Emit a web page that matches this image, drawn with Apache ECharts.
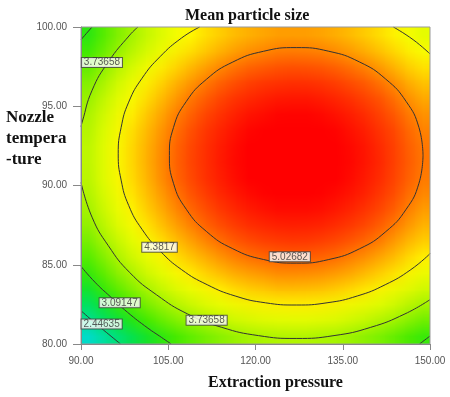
<!DOCTYPE html>
<html lang="en">
<head>
<meta charset="UTF-8">
<title>Mean particle size</title>
<script src="https://cdn.jsdelivr.net/npm/echarts@6/dist/echarts.min.js"></script>
<style>html,body{margin:0;padding:0;background:#fff;}</style>
</head>
<body>
<div id="main" style="width:450px;height:397px;"></div>
<script>
// cell centres of the coloured surface (extraction pressure / nozzle temperature)
var xCells = ['91.25','93.75','96.25','98.75','101.25','103.75','106.25','108.75','111.25','113.75','116.25','118.75',
              '121.25','123.75','126.25','128.75','131.25','133.75','136.25','138.75','141.25','143.75','146.25','148.75'];
var yCells = ['80.5','81.5','82.5','83.5','84.5','85.5','86.5','87.5','88.5','89.5',
              '90.5','91.5','92.5','93.5','94.5','95.5','96.5','97.5','98.5','99.5'];

// mean particle size, one row per yCell (bottom to top)
var sizeGrid = [
  [2.00,2.24,2.47,2.67,2.86,3.03,3.19,3.32,3.44,3.54,3.63,3.70,3.74,3.78,3.79,3.79,3.77,3.73,3.67,3.60,3.51,3.40,3.27,3.13],
  [2.31,2.55,2.78,2.98,3.17,3.34,3.50,3.63,3.75,3.85,3.94,4.01,4.05,4.09,4.10,4.10,4.08,4.04,3.98,3.91,3.82,3.71,3.58,3.44],
  [2.60,2.84,3.07,3.27,3.46,3.63,3.79,3.92,4.04,4.14,4.23,4.30,4.34,4.38,4.39,4.39,4.37,4.33,4.27,4.20,4.11,4.00,3.87,3.73],
  [2.86,3.10,3.33,3.53,3.72,3.89,4.05,4.18,4.30,4.40,4.49,4.56,4.60,4.64,4.65,4.65,4.63,4.59,4.53,4.46,4.37,4.26,4.13,3.99],
  [3.09,3.33,3.56,3.76,3.95,4.12,4.28,4.41,4.53,4.63,4.72,4.79,4.83,4.87,4.88,4.88,4.86,4.82,4.76,4.69,4.60,4.49,4.36,4.22],
  [3.29,3.53,3.76,3.96,4.15,4.32,4.48,4.61,4.73,4.83,4.92,4.99,5.03,5.07,5.08,5.08,5.06,5.02,4.96,4.89,4.80,4.69,4.56,4.42],
  [3.46,3.70,3.93,4.13,4.32,4.49,4.65,4.78,4.90,5.00,5.09,5.16,5.20,5.24,5.25,5.25,5.23,5.19,5.13,5.06,4.97,4.86,4.73,4.59],
  [3.61,3.85,4.08,4.28,4.47,4.64,4.80,4.93,5.05,5.15,5.24,5.31,5.35,5.39,5.40,5.40,5.38,5.34,5.28,5.21,5.12,5.01,4.88,4.74],
  [3.72,3.96,4.19,4.39,4.58,4.75,4.91,5.04,5.16,5.26,5.35,5.42,5.46,5.50,5.51,5.51,5.49,5.45,5.39,5.32,5.23,5.12,4.99,4.85],
  [3.81,4.05,4.28,4.48,4.67,4.84,5.00,5.13,5.25,5.35,5.44,5.51,5.55,5.59,5.60,5.60,5.58,5.54,5.48,5.41,5.32,5.21,5.08,4.94],
  [3.87,4.11,4.34,4.54,4.73,4.90,5.06,5.19,5.31,5.41,5.50,5.57,5.61,5.65,5.66,5.66,5.64,5.60,5.54,5.47,5.38,5.27,5.14,5.00],
  [3.90,4.14,4.37,4.57,4.76,4.93,5.09,5.22,5.34,5.44,5.53,5.60,5.64,5.68,5.69,5.69,5.67,5.63,5.57,5.50,5.41,5.30,5.17,5.03],
  [3.90,4.14,4.37,4.57,4.76,4.93,5.09,5.22,5.34,5.44,5.53,5.60,5.64,5.68,5.69,5.69,5.67,5.63,5.57,5.50,5.41,5.30,5.17,5.03],
  [3.87,4.11,4.34,4.54,4.73,4.90,5.06,5.19,5.31,5.41,5.50,5.57,5.61,5.65,5.66,5.66,5.64,5.60,5.54,5.47,5.38,5.27,5.14,5.00],
  [3.81,4.05,4.28,4.48,4.67,4.84,5.00,5.13,5.25,5.35,5.44,5.51,5.55,5.59,5.60,5.60,5.58,5.54,5.48,5.41,5.32,5.21,5.08,4.94],
  [3.72,3.96,4.19,4.39,4.58,4.75,4.91,5.04,5.16,5.26,5.35,5.42,5.46,5.50,5.51,5.51,5.49,5.45,5.39,5.32,5.23,5.12,4.99,4.85],
  [3.61,3.85,4.08,4.28,4.47,4.64,4.80,4.93,5.05,5.15,5.24,5.31,5.35,5.39,5.40,5.40,5.38,5.34,5.28,5.21,5.12,5.01,4.88,4.74],
  [3.46,3.70,3.93,4.13,4.32,4.49,4.65,4.78,4.90,5.00,5.09,5.16,5.20,5.24,5.25,5.25,5.23,5.19,5.13,5.06,4.97,4.86,4.73,4.59],
  [3.29,3.53,3.76,3.96,4.15,4.32,4.48,4.61,4.73,4.83,4.92,4.99,5.03,5.07,5.08,5.08,5.06,5.02,4.96,4.89,4.80,4.69,4.56,4.42],
  [3.09,3.33,3.56,3.76,3.95,4.12,4.28,4.41,4.53,4.63,4.72,4.79,4.83,4.87,4.88,4.88,4.86,4.82,4.76,4.69,4.60,4.49,4.36,4.22]
];

// contour lines, points [pressure, temperature]
var c5027 = [[148.8,91.9],[148.1,93.66],[145.9,95.3],[142.4,96.71],[137.9,97.79],[132.6,98.47],[127,98.7],
             [121.4,98.47],[116.1,97.79],[111.6,96.71],[108.1,95.3],[105.9,93.66],[105.2,91.9],[105.9,90.14],
             [108.1,88.5],[111.6,87.09],[116.1,86.01],[121.4,85.33],[127,85.1],[132.6,85.33],[137.9,86.01],
             [142.4,87.09],[145.9,88.5],[148.1,90.14],[148.8,91.9]];
var c4382a = [[110.4,100],[107.3,99.31],[103.6,98.13],[100.5,96.77],[98.2,95.26],[96.9,93.66],[96.4,92.0],
              [96.9,90.34],[98.2,88.74],[100.5,87.23],[103.6,85.87],[107.3,84.69],[111.7,83.74],[116.5,83.03],
              [121.7,82.6],[127,82.46],[132.3,82.6],[137.5,83.03],[142.3,83.74],[146.7,84.69],[150,85.7]];
var c4382b = [[143.7,100],[147.1,99.2],[150,98.3]];
var c3737a = [[99.8,100],[98.4,99.5],[94.7,97.8],[91.9,96.0],[90.2,94.0],[90,93.7]];
var c3737b = [[90,90.2],[91.9,88.0],[94.7,86.2],[98.4,84.5],[103.0,83.1],[108.3,81.9],[114.2,81.05],
              [120.5,80.53],[127,80.35],[133.5,80.53],[139.8,81.05],[145.7,81.9],[150,82.8]];
var c3091a = [[91.9,100],[90,99.2]];
var c3091b = [[90,84.9],[92.4,83.9],[95.0,83.0],[98.0,82.0],[101.5,81.0],[103.5,80.5],[105.5,80.0]];
var c3091c = [[148.2,80],[150,80.5]];
var c2446 = [[90,82.1],[92.5,81.3],[94.8,80.6],[96.8,80]];

// contour value boxes
var labelTexts = ['3.73658', '4.3817', '5.02682', '3.09147', '2.44635', '3.73658'];
var labelPos = [[93.6,97.76],[103.5,86.1],[125.9,85.5],[96.65,82.6],[93.55,81.26],[111.6,81.5]];

var surfaceColors = ['#00c8ff', '#00d8e0', '#00e0a0', '#00e050', '#30e800', '#80f000',
                     '#c8f800', '#ffff00', '#ffb000', '#ff5000', '#ff0000'];

var heat = [];
for (var j = 0; j < sizeGrid.length; j++) {
  for (var i = 0; i < sizeGrid[j].length; i++) {
    heat.push([i, j, sizeGrid[j][i]]);
  }
}

// heatmap drawn one pixel per cell, then stretched (smoothly) over the plot
var cellDiv = document.createElement('div');
cellDiv.style.cssText = 'position:absolute;left:-300px;top:0;width:' + xCells.length + 'px;height:' + yCells.length + 'px;';
document.body.appendChild(cellDiv);
var cellChart = echarts.init(cellDiv, null, { devicePixelRatio: 1 });
cellChart.setOption({
  animation: false,
  grid: { left: 0, right: 0, top: 0, bottom: 0 },
  xAxis: { type: 'category', data: xCells, show: false },
  yAxis: { type: 'category', data: yCells, show: false },
  visualMap: { show: false, dimension: 2, min: 1.6, max: 5.6, inRange: { color: surfaceColors } },
  series: [{ type: 'heatmap', data: heat, itemStyle: { borderWidth: 0 } }]
});
var surface = cellChart.getDom().querySelector('canvas');

var contours = [c5027, c4382a, c4382b, c3737a, c3737b, c3091a, c3091b, c3091c, c2446];
var series = [];
contours.forEach(function (c) {
  series.push({
    type: 'line',
    data: c,
    smooth: 0.5,
    symbol: 'none',
    lineStyle: { color: '#333', width: 1 },
    z: 3
  });
});
series.push({
  type: 'scatter',
  data: labelPos,
  symbolSize: 0,
  z: 5,
  label: {
    show: true,
    position: 'inside',
    formatter: function (p) { return labelTexts[p.dataIndex]; },
    backgroundColor: '#fff',
    borderColor: '#444',
    borderWidth: 1,
    padding: [0, 2, 0, 2],
    fontFamily: 'Liberation Sans',
    fontSize: 10,
    lineHeight: 9,
    color: '#333'
  }
});

var axisText = { fontFamily: 'Liberation Sans', fontSize: 10, color: '#555' };
var myChart = echarts.init(document.getElementById('main'));
myChart.setOption({
  animation: false,
  title: {
    text: 'Mean particle size',
    left: 180,
    top: 3,
    textStyle: { fontFamily: 'Liberation Serif', fontWeight: 'bold', fontSize: 16, color: '#111' }
  },
  grid: { left: 81, right: 20, top: 27, bottom: 53, show: true, borderColor: '#999', borderWidth: 1, z: 4 },
  xAxis: {
    type: 'value', min: 90, max: 150, interval: 15, z: 4,
    axisLine: { lineStyle: { color: '#888' } },
    axisTick: { length: 6, lineStyle: { color: '#888' } },
    splitLine: { show: false },
    axisLabel: Object.assign({ margin: 12, formatter: function (v) { return v.toFixed(2); } }, axisText)
  },
  yAxis: {
    type: 'value', min: 80, max: 100, interval: 5, z: 4,
    axisLine: { show: true, lineStyle: { color: '#888' } },
    axisTick: { show: true, length: 8, lineStyle: { color: '#888' } },
    splitLine: { show: false },
    axisLabel: Object.assign({ margin: 14, formatter: function (v) { return v.toFixed(2); } }, axisText)
  },
  graphic: [{
    id: 'yname', type: 'text', left: 6, top: 107,
    style: { text: 'Nozzle\ntempera\n-ture', font: 'bold 17px "Liberation Serif"', lineHeight: 21, fill: '#111' }
  }, {
    id: 'xname', type: 'text', left: 208, top: 375,
    style: { text: 'Extraction pressure', font: 'bold 16px "Liberation Serif"', fill: '#111' }
  }],
  series: series
});

// place the surface image on the plot area using the chart's own axes
var p0 = myChart.convertToPixel({ xAxisIndex: 0, yAxisIndex: 0 }, [90, 100]);
var p1 = myChart.convertToPixel({ xAxisIndex: 0, yAxisIndex: 0 }, [150, 80]);
myChart.setOption({
  graphic: [{
    id: 'surface', type: 'image', z: 1,
    style: { image: surface, x: p0[0], y: p0[1], width: p1[0] - p0[0], height: p1[1] - p0[1] }
  }]
});
</script>
</body>
</html>
